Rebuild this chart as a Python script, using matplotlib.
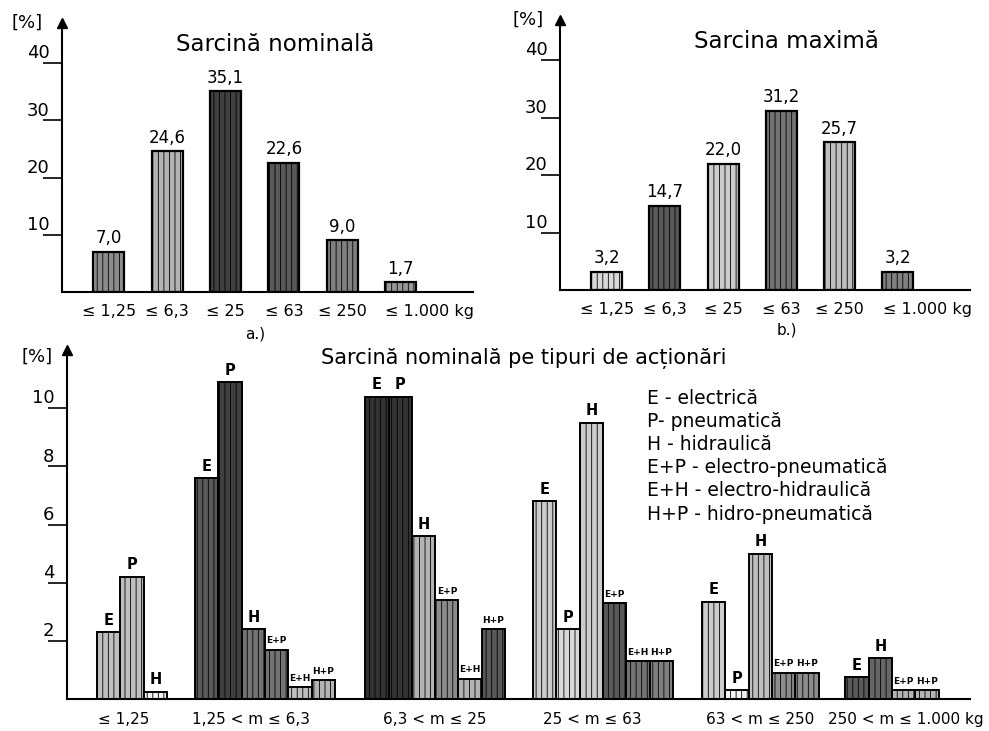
import matplotlib.pyplot as plt
import numpy as np

plt.rcParams['font.family'] = ['DejaVu Sans']
plt.rcParams['hatch.linewidth'] = 0.6

# date - graficul a) sarcina nominala
cat_a = ['≤ 1,25', '≤ 6,3', '≤ 25', '≤ 63', '≤ 250', '≤ 1.000 kg']
val_a = [7.0, 24.6, 35.1, 22.6, 9.0, 1.7]

# date - graficul b) sarcina maxima
cat_b = ['≤ 1,25', '≤ 6,3', '≤ 25', '≤ 63', '≤ 250', '≤ 1.000 kg']
val_b = [3.2, 14.7, 22.0, 31.2, 25.7, 3.2]

# date - sarcina nominala pe tipuri de actionari (None = lipsa)
groups = ['≤ 1,25', '1,25 < m ≤ 6,3', '6,3 < m ≤ 25', '25 < m ≤ 63',
          '63 < m ≤ 250', '250 < m ≤ 1.000 kg']
drive_types = ['E', 'P', 'H', 'E+P', 'E+H', 'H+P']
val_E = [2.3, 7.6, 10.4, 6.8, 3.35, 0.75]
val_P = [4.2, 10.9, 10.4, 2.4, 0.3, None]
val_H = [0.25, 2.4, 5.6, 9.5, 5.0, 1.4]
val_EP = [None, 1.7, 3.4, 3.3, 0.9, 0.3]
val_EH = [None, 0.4, 0.7, 1.3, None, None]
val_HP = [None, 0.65, 2.4, 1.3, 0.9, 0.3]
legend_lines = ['E - electrică', 'P- pneumatică', 'H - hidraulică',
                'E+P - electro-pneumatică', 'E+H - electro-hidraulică',
                'H+P - hidro-pneumatică']

# nuante de gri pentru imitarea hasurii scanate
shade_a = [0.55, 0.7, 0.25, 0.35, 0.5, 0.6]
shade_b = [0.85, 0.35, 0.8, 0.45, 0.75, 0.5]
shade_c = [[0.75, 0.75, 0.95],
           [0.35, 0.25, 0.45, 0.45, 0.75, 0.7],
           [0.2, 0.2, 0.7, 0.55, 0.7, 0.35],
           [0.8, 0.85, 0.8, 0.35, 0.45, 0.5],
           [0.8, 0.95, 0.75, 0.55, 0.55],
           [0.35, 0.4, 0.7, 0.7]]

W, H = 989, 731
fig = plt.figure(figsize=(W / 100, H / 100), dpi=100)


def px_axes(left, base, right, top):
    # axe plasate dupa pixelii imaginii
    return fig.add_axes([left / W, 1 - base / H, (right - left) / W, (base - top) / H])


def style_axis(ax):
    for s in ['top', 'right']:
        ax.spines[s].set_visible(False)
    ax.spines['left'].set_linewidth(1.5)
    ax.spines['bottom'].set_linewidth(1.5)
    ax.plot(0, 1, marker='^', color='k', ms=7, transform=ax.transAxes, clip_on=False)
    ax.set_xticks([])
    ax.tick_params(axis='y', length=14, width=1.2, labelleft=False)


def ylabels(ax, ticks):
    for t in ticks:
        ax.annotate(str(t), xy=(0, t), xycoords=('axes fraction', 'data'),
                    xytext=(-9, 7), textcoords='offset points',
                    ha='right', va='center', fontsize=13)


def top_panel(ax, cats, vals, shades, title, title_x, pct_x, tag, tag_pos):
    style_axis(ax)
    x = np.arange(len(vals))
    ax.bar(x, vals, width=0.53, color=[str(s) for s in shades], edgecolor='k',
           linewidth=1.6, hatch='|||')
    for xi, v in zip(x, vals):
        ax.text(xi, v + 0.8, f'{v:.1f}'.replace('.', ','), ha='center', va='bottom',
                fontsize=12)
    for xi, c in zip(x, cats):
        if 'kg' in c:
            ax.annotate(c, xy=(xi - 0.26, 0), xycoords='data', xytext=(0, -14),
                        textcoords='offset points', ha='left', va='center',
                        fontsize=11.5)
        else:
            ax.annotate(c, xy=(xi, 0), xycoords='data', xytext=(0, -14),
                        textcoords='offset points', ha='center', va='center',
                        fontsize=11.5)
    ax.set_yticks([10, 20, 30, 40])
    ylabels(ax, [10, 20, 30, 40])
    ax.set_ylim(0, 47)
    ax.set_xlim(-0.8, 6.24)
    ax.text(title_x, 0.92, title, transform=ax.transAxes, ha='center', va='center',
            fontsize=16.5)
    ax.text(pct_x, 1.0, '[%]', transform=ax.transAxes, ha='center', va='center',
            fontsize=13)
    ax.text(tag_pos[0], tag_pos[1], tag, transform=ax.transAxes, ha='center',
            va='center', fontsize=11)


# grafic a)
ax_a = px_axes(62, 292, 473, 23)
top_panel(ax_a, cat_a, val_a, shade_a, 'Sarcină nominală', 0.518, -0.085,
          'a.)', (0.47, -0.155))

# grafic b)
ax_b = px_axes(560, 290, 970, 20)
top_panel(ax_b, cat_b, val_b, shade_b, 'Sarcina maximă', 0.553, -0.078,
          'b.)', (0.553, -0.148))

# grafic c) pe tipuri de actionari
ax_c = px_axes(67, 699, 970, 350)
style_axis(ax_c)
ax_c.set_xlim(0, 38.75)
ax_c.set_ylim(0, 12.0)
ax_c.set_yticks([2, 4, 6, 8, 10])
ylabels(ax_c, [2, 4, 6, 8, 10])

series = [val_E, val_P, val_H, val_EP, val_EH, val_HP]
group_start = [1.29, 5.5, 12.8, 20.0, 27.25, 33.4]
label_shift = [-6, -10, 0, -8, 0, 10]
for g, name in enumerate(groups):
    present = [(drive_types[k], series[k][g]) for k in range(len(drive_types))
               if series[k][g] is not None]
    xs = group_start[g] + np.arange(len(present)) + 0.5
    vs = [v for _, v in present]
    ax_c.bar(xs, vs, width=1.0, color=[str(s) for s in shade_c[g]], edgecolor='k',
             linewidth=1.4, hatch='|||')
    for xi, (lab, v) in zip(xs, present):
        ax_c.text(xi, v + 0.15, lab, ha='center', va='bottom',
                  fontsize=10.5 if len(lab) == 1 else 6.5, fontweight='bold')
    ax_c.annotate(name, xy=(group_start[g] + len(present) / 2, 0), xycoords='data',
                  xytext=(label_shift[g], -15), textcoords='offset points',
                  ha='center', va='center', fontsize=11)

ax_c.text(0.506, 0.975, 'Sarcină nominală pe tipuri de acționări',
          transform=ax_c.transAxes, ha='center', va='center', fontsize=15)
ax_c.text(-0.033, 0.98, '[%]', transform=ax_c.transAxes, ha='center', va='center',
          fontsize=13)
for i, line in enumerate(legend_lines):
    ax_c.text(0.642, 0.86 - i * 0.066, line, transform=ax_c.transAxes, ha='left',
              va='center', fontsize=13.5)

fig.savefig('out.png', dpi=100)
